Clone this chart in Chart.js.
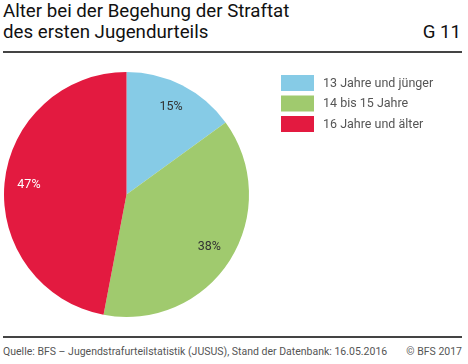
<!DOCTYPE html>
<html>
<head>
<meta charset="utf-8">
<script src="https://cdn.jsdelivr.net/npm/chart.js@4"></script>
<style>
  html, body { margin: 0; padding: 0; background: #fff; }
  body { width: 468px; height: 364px; position: relative; overflow: hidden; font-family: Roboto, sans-serif; }
  .title { position: absolute; left: 3px; top: 1px; width: 459px; font-size: 18.7px; line-height: 20.5px; color: #111; }
  .code { position: absolute; right: 7px; top: 21.5px; font-size: 18.7px; line-height: 20.5px; color: #111; }
  .rule { position: absolute; left: 3px; width: 459px; height: 2px; background: #444; }
  .foot { position: absolute; top: 345px; font-size: 10.5px; color: #555; }
  #wrap { position: absolute; left: 0; top: 0; width: 468px; height: 364px; }
</style>
</head>
<body>
<div class="title">Alter bei der Begehung der Straftat<br>des ersten Jugendurteils</div>
<div class="code">G 11</div>
<div class="rule" style="top:50.5px"></div>
<div class="rule" style="top:336px"></div>
<div class="foot" style="left:3px">Quelle: BFS – Jugendstrafurteilstatistik (JUSUS), Stand der Datenbank: 16.05.2016</div>
<div class="foot" style="right:6px">© BFS 2017</div>
<div id="wrap"><canvas id="myChart" width="468" height="364"></canvas></div>
<script>
var categories = ['13 Jahre und jünger', '14 bis 15 Jahre', '16 Jahre und älter'];
var shares = [15, 38, 47];
var colors = ['#86cbe6', '#a0ca6e', '#e31a40'];
var labelColors = ['#333333', '#333333', '#ffffff'];

// Prozentwerte in die Segmente schreiben
var sliceLabels = {
  id: 'sliceLabels',
  afterDatasetsDraw: function (chart) {
    var ctx = chart.ctx;
    var meta = chart.getDatasetMeta(0);
    ctx.save();
    ctx.font = '12.5px Roboto';
    ctx.textAlign = 'center';
    ctx.textBaseline = 'middle';
    meta.data.forEach(function (arc, i) {
      var mid = (arc.startAngle + arc.endAngle) / 2;
      var r = arc.outerRadius * 0.8;
      ctx.fillStyle = labelColors[i];
      ctx.fillText(shares[i] + '%', arc.x + Math.cos(mid) * r, arc.y + Math.sin(mid) * r);
    });
    ctx.restore();
  }
};

// Legende rechts oben
var boxLegend = {
  id: 'boxLegend',
  afterDraw: function (chart) {
    var ctx = chart.ctx;
    ctx.save();
    ctx.font = '12.5px Roboto';
    ctx.textBaseline = 'middle';
    chart.data.labels.forEach(function (label, i) {
      var y = 75 + i * 20.5;
      ctx.fillStyle = chart.data.datasets[0].backgroundColor[i];
      ctx.fillRect(281, y, 33, 16);
      ctx.fillStyle = '#555';
      ctx.fillText(label, 323, y + 8.5);
    });
    ctx.restore();
  }
};

const ctx = document.getElementById('myChart');
const chart = new Chart(ctx, {
  type: 'pie',
  data: {
    labels: categories,
    datasets: [{
      data: shares,
      backgroundColor: colors,
      borderWidth: 0
    }]
  },
  options: {
    responsive: false,
    animation: false,
    layout: { padding: { left: 4, top: 72, right: 219, bottom: 47 } },
    plugins: {
      legend: { display: false },
      tooltip: { enabled: false }
    }
  },
  plugins: [sliceLabels, boxLegend]
});
</script>
</body>
</html>
